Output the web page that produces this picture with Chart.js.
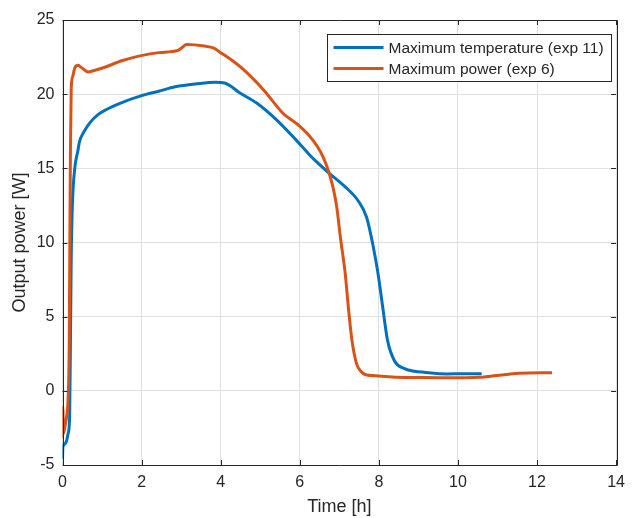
<!DOCTYPE html>
<html>
<head>
<meta charset="utf-8">
<script src="https://cdn.jsdelivr.net/npm/chart.js@4.4.1/dist/chart.umd.min.js"></script>
<style>
  html, body { margin: 0; padding: 0; background: #fff; }
  #wrap { width: 633px; height: 518px; }
</style>
</head>
<body>
<div id="wrap"><canvas id="powerChart" width="633" height="518"></canvas></div>
<script>
// values
const tempTime = [0, 0.01, 0.05, 0.1, 0.14, 0.18, 0.2, 0.22, 0.25, 0.31, 0.39, 0.43, 0.55, 0.7, 0.89, 1.1, 1.47, 2.0, 2.43, 2.85, 3.4, 3.87, 4.1, 4.25, 4.45, 4.91, 5.42, 5.91, 6.25, 6.4, 6.73, 7.15, 7.48, 7.69, 7.86, 7.98, 8.1, 8.22, 8.4, 8.65, 8.9, 9.14, 9.72, 10.14, 10.6];
const tempPower = [-4.6, -3.8, -3.6, -3.4, -2.9, -1.8, 3, 8.8, 12.5, 15, 16.2, 16.8, 17.5, 18.1, 18.6, 18.95, 19.4, 19.9, 20.2, 20.5, 20.7, 20.8, 20.75, 20.55, 20.15, 19.4, 18.25, 16.9, 15.9, 15.5, 14.7, 13.75, 12.8, 11.7, 9.7, 7.9, 5.6, 3.4, 2.0, 1.5, 1.32, 1.25, 1.14, 1.16, 1.15];

const powerTime = [0, 0.01, 0.02, 0.06, 0.1, 0.14, 0.17, 0.19, 0.2, 0.22, 0.26, 0.31, 0.39, 0.5, 0.64, 0.8, 1.05, 1.5, 1.9, 2.43, 2.92, 3.05, 3.13, 3.58, 3.83, 4.0, 4.25, 4.58, 5.08, 5.58, 5.93, 6.24, 6.45, 6.6, 6.74, 6.86, 6.94, 7.03, 7.15, 7.23, 7.32, 7.44, 7.55, 7.65, 8.0, 8.47, 9.0, 9.7, 10.55, 10.97, 11.55, 12.38];
const powerPower = [-3.2, -1.1, -2.9, -2.45, -1.8, -0.6, 3, 12, 16, 20.3, 21.2, 21.76, 21.95, 21.75, 21.5, 21.6, 21.8, 22.25, 22.55, 22.8, 22.95, 23.2, 23.35, 23.25, 23.1, 22.8, 22.35, 21.65, 20.3, 18.7, 18.0, 17.2, 16.45, 15.7, 14.7, 13.5, 12.3, 10.3, 7.9, 5.6, 3.4, 1.8, 1.3, 1.1, 1.0, 0.92, 0.9, 0.88, 0.92, 1.03, 1.18, 1.22];

const xTicks = [0, 2, 4, 6, 8, 10, 12, 14];
const yTicks = [-5, 0, 5, 10, 15, 20, 25];
const seriesNames = ['Maximum temperature (exp 11)', 'Maximum power (exp 6)'];
const seriesColors = ['#0072BD', '#D95319'];

const FONT = '"Liberation Sans", Arial, Helvetica, sans-serif';
const AXIS_COLOR = '#262626';

function toPoints(xs, ys) {
  return xs.map((x, i) => ({ x: x, y: ys[i] }));
}

// box round the axes with inward ticks, like the original figure
const framePlugin = {
  id: 'frame',
  afterDatasetsDraw(chart) {
    const { ctx, chartArea: a, scales } = chart;
    ctx.save();
    ctx.strokeStyle = AXIS_COLOR;
    ctx.lineWidth = 1;
    ctx.beginPath();
    ctx.rect(Math.round(a.left) + 0.5, Math.round(a.top) + 0.5,
             Math.round(a.right - a.left), Math.round(a.bottom - a.top));
    xTicks.forEach(v => {
      const px = Math.round(scales.x.getPixelForValue(v)) + 0.5;
      ctx.moveTo(px, a.bottom); ctx.lineTo(px, a.bottom - 5);
      ctx.moveTo(px, a.top); ctx.lineTo(px, a.top + 5);
    });
    yTicks.forEach(v => {
      const py = Math.round(scales.y.getPixelForValue(v)) + 0.5;
      ctx.moveTo(a.left, py); ctx.lineTo(a.left + 5, py);
      ctx.moveTo(a.right, py); ctx.lineTo(a.right - 5, py);
    });
    ctx.stroke();
    ctx.restore();
  },
  afterDraw(chart) {
    // legend box, top right inside the axes
    const ctx = chart.ctx;
    const box = { x: 327.5, y: 34.5, w: 284, h: 47 };
    ctx.save();
    ctx.fillStyle = '#fff';
    ctx.fillRect(box.x, box.y, box.w, box.h);
    ctx.strokeStyle = AXIS_COLOR;
    ctx.lineWidth = 1;
    ctx.strokeRect(box.x, box.y, box.w, box.h);
    ctx.font = '15.5px ' + FONT;
    ctx.textBaseline = 'middle';
    ctx.fillStyle = AXIS_COLOR;
    seriesNames.forEach((name, i) => {
      const y = box.y + 13 + i * 21;
      ctx.strokeStyle = seriesColors[i];
      ctx.lineWidth = 3;
      ctx.beginPath();
      ctx.moveTo(box.x + 6, y);
      ctx.lineTo(box.x + 56, y);
      ctx.stroke();
      ctx.fillText(name, box.x + 61, y + 1);
    });
    ctx.restore();
  }
};

const ctx = document.getElementById('powerChart').getContext('2d');
new Chart(ctx, {
  type: 'scatter',
  data: {
    datasets: [{
      label: seriesNames[0],
      data: toPoints(tempTime, tempPower),
      borderColor: seriesColors[0],
      borderWidth: 3,
      showLine: true,
      pointRadius: 0,
      cubicInterpolationMode: 'monotone',
      order: 1
    }, {
      label: seriesNames[1],
      data: toPoints(powerTime, powerPower),
      borderColor: seriesColors[1],
      borderWidth: 3,
      showLine: true,
      pointRadius: 0,
      cubicInterpolationMode: 'monotone',
      order: 0
    }]
  },
  options: {
    responsive: false,
    animation: false,
    layout: { padding: { left: 0, right: 8, top: 20, bottom: 0 } },
    scales: {
      x: {
        type: 'linear',
        min: 0,
        max: 14,
        afterFit: s => { s.height = 53; },
        afterBuildTicks: s => { s.ticks = xTicks.map(v => ({ value: v })); },
        ticks: { color: AXIS_COLOR, font: { family: FONT, size: 16 }, padding: 8, maxRotation: 0 },
        grid: { color: '#dfdfdf', drawTicks: false },
        border: { display: false },
        title: { display: true, text: 'Time [h]', color: AXIS_COLOR, font: { family: FONT, size: 18 }, padding: 0 }
      },
      y: {
        type: 'linear',
        min: -5,
        max: 25,
        afterFit: s => { s.width = 62.5; },
        afterBuildTicks: s => { s.ticks = yTicks.map(v => ({ value: v })); },
        ticks: { color: AXIS_COLOR, font: { family: FONT, size: 16 }, padding: 8 },
        grid: { color: '#dfdfdf', drawTicks: false },
        border: { display: false },
        title: { display: true, text: 'Output power [W]', color: AXIS_COLOR, font: { family: FONT, size: 18 }, padding: { top: 9, bottom: 0 } }
      }
    },
    plugins: {
      legend: { display: false },
      tooltip: { enabled: false }
    }
  },
  plugins: [framePlugin]
});
</script>
</body>
</html>
